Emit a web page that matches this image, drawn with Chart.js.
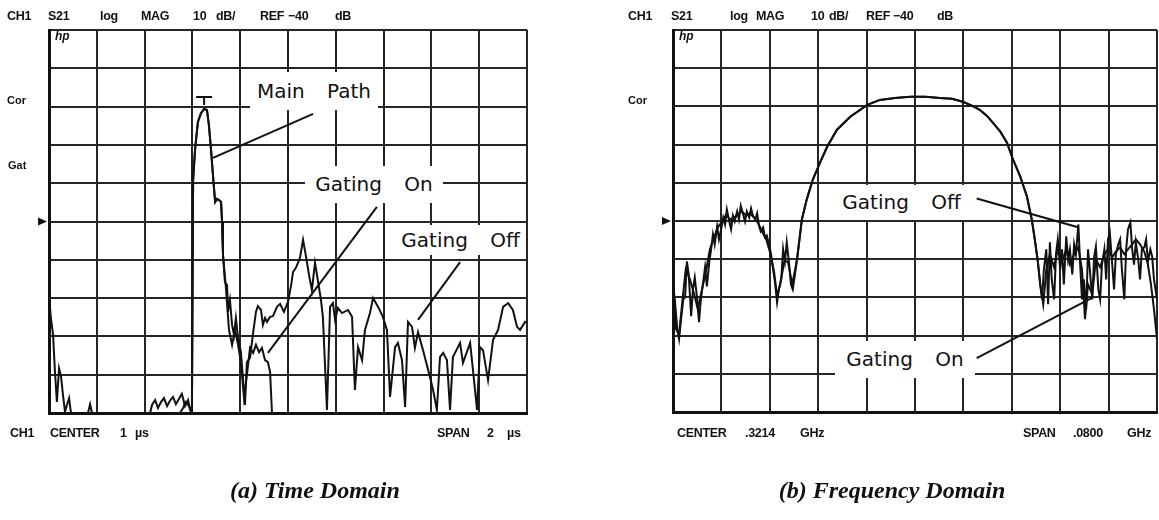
<!DOCTYPE html>
<html>
<head>
<meta charset="utf-8">
<script src="https://cdn.jsdelivr.net/npm/chart.js@4.4.1/dist/chart.umd.min.js"></script>
<style>
body { margin: 0; background: #fff; }
#wrap { position: relative; width: 1159px; height: 520px; overflow: hidden; background: #fff; }
canvas { position: absolute; left: 0; top: 0; }
.t { position: absolute; font: bold 12.5px "Liberation Sans", sans-serif; letter-spacing: -0.3px; color: #111; white-space: pre; line-height: 15px; }
.side { position: absolute; font: bold 11px "Liberation Sans", sans-serif; color: #111; line-height: 13px; }
.hp { position: absolute; font: italic bold 12px "Liberation Sans", sans-serif; color: #111; line-height: 13px; }
.lbl { position: absolute; background: #fff; font: 20px "DejaVu Sans", sans-serif; color: #111; text-align: center; white-space: pre; word-spacing: 16px; }
.cap { position: absolute; width: 400px; text-align: center; font: italic bold 24px "Liberation Serif", serif; color: #111; line-height: 28px; }
</style>
</head>
<body>
<div id="wrap">
  <canvas id="timeChart" width="1159" height="520"></canvas>
  <canvas id="freqChart" width="1159" height="520"></canvas>
</div>
<script>
// screen limits and reference level (10 dB/div, REF -40 dB)
const dbMin = -90, dbMax = 10, refDb = -40;
const timeSpanUs = [0, 2];            // CENTER 1 us, SPAN 2 us
const freqSpanGHz = [0.2814, 0.3614]; // CENTER .3214 GHz, SPAN .0800 GHz

// (a) time domain, gating off
const timeOffUs = [
  0, .008, .017, .025, .033, .042, .050, .059, .067, .075,
  .084, .092, .163, .172, .180, .423, .431, .444, .456, .469,
  .481, .494, .506, .519, .531, .544, .556, .569, .582, .590,
  .598, .603, .611, .623, .636, .649, .661, .669, .678, .686,
  .695, .703, .711, .720, .724, .728, .736, .745, .749, .757,
  .766, .774, .782, .791, .803, .812, .820, .828, .841, .854,
  .866, .874, .887, .895, .904, .912, .925, .937, .954, .967,
  .983, 1.000, 1.013, 1.021, 1.033, 1.050, 1.063, 1.075, 1.088, 1.100,
  1.113, 1.126, 1.138, 1.146, 1.163, 1.176, 1.188, 1.197, 1.209, 1.226,
  1.251, 1.268, 1.280, 1.293, 1.310, 1.322, 1.343, 1.356, 1.377, 1.397,
  1.414, 1.427, 1.448, 1.460, 1.477, 1.490, 1.502, 1.519, 1.531, 1.544,
  1.565, 1.594, 1.607, 1.623, 1.636, 1.649, 1.665, 1.678, 1.690, 1.720,
  1.732, 1.762, 1.774, 1.791, 1.803, 1.816, 1.837, 1.858, 1.879, 1.900,
  1.921, 1.941, 1.958, 1.971, 1.992, 2.000
];
const gateOffTimeDb = [
  -59.7, -65.2, -69.6, -79.3, -87.1, -78.3, -80.3, -85.6, -89.7, -87.9,
  -86.1, -90, -90, -87.7, -90, -90, -87.9, -86.6, -88.7, -87.1,
  -86.1, -88.2, -86.8, -85.8, -87.7, -86.3, -85.0, -88.2, -86.6, -89.2,
  -90, -29.2, -21.3, -14.0, -11.7, -10.6, -10.9, -14.8, -21.3, -27.9,
  -34.9, -34.1, -34.4, -34.9, -40.1, -48.7, -55.8, -56.6, -63.6, -60.5,
  -67.0, -69.6, -65.2, -70.4, -74.1, -81.4, -87.9, -76.7, -75.6, -69.1,
  -63.6, -62.1, -63.1, -67.0, -65.2, -66.2, -64.9, -64.7, -62.3, -61.5,
  -63.6, -61.0, -56.6, -53.2, -52.1, -49.5, -44.8, -49.0, -54.0, -57.9,
  -50.8, -55.8, -60.5, -64.9, -89.2, -62.3, -61.3, -65.7, -62.6, -63.9,
  -63.1, -64.9, -84.0, -72.8, -76.2, -68.3, -63.9, -60.0, -62.3, -64.9,
  -68.3, -85.8, -72.8, -71.7, -76.2, -88.4, -66.2, -67.5, -73.0, -68.9,
  -73.6, -80.6, -84.0, -89.2, -75.4, -74.3, -76.2, -89.2, -75.4, -71.7,
  -76.9, -71.7, -78.8, -89.2, -72.8, -73.6, -81.4, -70.9, -68.3, -62.3,
  -61.3, -63.1, -67.5, -68.3, -66.2, -66.5
];

// (a) time domain, gating on
const timeOnUs = [
  0, .548, .561, .573, .586, .598, .603, .611, .623, .636,
  .649, .661, .669, .678, .686, .695, .703, .711, .720, .724,
  .728, .741, .753, .766, .778, .791, .803, .816, .828, .841,
  .854, .866, .879, .891, .904, .916, .925, .933, 2.000
];
const gateOnTimeDb = [
  -90, -90, -88.7, -87.1, -88.2, -89.7, -29.2, -21.3, -14.0, -11.7,
  -10.6, -10.9, -14.8, -21.3, -27.9, -34.9, -34.1, -34.4, -34.9, -40.1,
  -48.7, -57.9, -68.3, -72.2, -68.3, -72.2, -76.7, -86.1, -80.1, -73.0,
  -74.3, -72.2, -74.1, -73.0, -76.2, -76.7, -79.3, -90, -90
];

// (b) frequency domain, gating off
const freqOffGHz = [
  .2814, .2817, .2821, .2824, .2827, .2831, .2834, .2837, .2840, .2844,
  .2847, .2850, .2854, .2857, .2860, .2864, .2867, .2870, .2874, .2877,
  .2880, .2883, .2887, .2890, .2893, .2897, .2900, .2903, .2907, .2910,
  .2913, .2916, .2920, .2923, .2926, .2930, .2933, .2936, .2940, .2943,
  .2946, .2950, .2953, .2956, .2959, .2963, .2966, .2969, .2973, .2976,
  .2979, .2983, .2986, .2989, .2993, .2996, .2999, .3002, .3006, .3009,
  .3012, .3019, .3027, .3035, .3045, .3057, .3069, .3085, .3107, .3135,
  .3156, .3181, .3206, .3231, .3255, .3275, .3293, .3308, .3321, .3333,
  .3343, .3355, .3366, .3376, .3388, .3399, .3407, .3412, .3417, .3421,
  .3424, .3427, .3431, .3434, .3437, .3440, .3444, .3447, .3450, .3454,
  .3457, .3460, .3464, .3467, .3470, .3474, .3477, .3480, .3484, .3487,
  .3490, .3493, .3497, .3500, .3503, .3507, .3510, .3513, .3517, .3520,
  .3523, .3527, .3530, .3533, .3536, .3540, .3543, .3546, .3550, .3553,
  .3556, .3560, .3563, .3566, .3570, .3573, .3576, .3579, .3583, .3586,
  .3589, .3593, .3596, .3599, .3603, .3606, .3609, .3614
];
const gateOffFreqDb = [
  -56.6, -60.5, -68.3, -70.9, -66.2, -60.5, -60.0, -50.6, -54.0, -64.9,
  -57.9, -54.8, -60.5, -66.5, -60.5, -55.8, -52.1, -57.1, -50.6, -47.4,
  -43.5, -46.1, -41.4, -44.8, -42.7, -39.1, -40.9, -37.0, -40.1, -42.2,
  -38.6, -40.1, -37.5, -39.6, -36.0, -38.3, -40.1, -37.5, -39.1, -36.7,
  -38.6, -39.6, -38.0, -41.2, -42.7, -41.7, -44.3, -43.8, -46.3, -48.7,
  -52.1, -56.6, -61.3, -57.9, -55.3, -47.4, -50.6, -45.6, -51.4, -56.6,
  -57.9, -50.1, -39.6, -34.4, -29.2, -24.7, -20.5, -16.1, -12.7, -9.6,
  -8.3, -7.8, -7.5, -7.5, -7.8, -8.0, -8.8, -9.8, -10.9, -12.5,
  -14.3, -16.6, -19.5, -23.9, -28.4, -33.6, -39.6, -44.8, -50.6, -56.6,
  -60.5, -52.7, -47.4, -61.8, -45.6, -55.3, -60.5, -48.7, -44.8, -52.7,
  -47.4, -56.6, -44.0, -50.1, -47.4, -54.0, -46.1, -48.7, -40.9, -51.4,
  -60.5, -55.3, -63.1, -47.4, -52.7, -60.5, -49.5, -46.7, -57.9, -60.5,
  -51.4, -47.4, -55.3, -44.8, -43.0, -51.4, -57.9, -48.7, -46.1, -44.8,
  -52.7, -60.5, -47.4, -42.2, -40.4, -47.4, -51.4, -45.6, -50.1, -55.3,
  -47.4, -46.9, -44.8, -50.6, -47.4, -49.3, -55.3, -60.5
];

// (b) frequency domain, gating on
const freqOnGHz = [
  .2814, .2819, .2824, .2829, .2835, .2842, .2849, .2855, .2862, .2869,
  .2875, .2882, .2888, .2895, .2902, .2908, .2915, .2921, .2928, .2935,
  .2941, .2948, .2955, .2961, .2968, .2974, .2981, .2986, .2991, .2998,
  .3004, .3011, .3019, .3027, .3035, .3045, .3057, .3069, .3085, .3107,
  .3135, .3156, .3181, .3206, .3231, .3255, .3275, .3293, .3308, .3321,
  .3333, .3343, .3355, .3366, .3376, .3388, .3399, .3407, .3412, .3417,
  .3421, .3426, .3431, .3437, .3444, .3450, .3457, .3464, .3470, .3477,
  .3484, .3490, .3495, .3500, .3507, .3513, .3520, .3527, .3533, .3540,
  .3546, .3553, .3560, .3566, .3573, .3579, .3586, .3593, .3599, .3604,
  .3609, .3614
];
const gateOnFreqDb = [
  -59.2, -68.3, -69.6, -61.8, -52.7, -55.3, -59.2, -63.1, -57.9, -52.7,
  -47.4, -44.3, -41.7, -40.1, -38.3, -39.6, -39.1, -38.3, -37.5, -38.6,
  -38.0, -39.1, -40.6, -42.7, -44.8, -48.0, -53.2, -59.7, -56.6, -50.6,
  -50.6, -56.6, -50.1, -39.6, -34.4, -29.2, -24.7, -20.5, -16.1, -12.7,
  -9.6, -8.3, -7.8, -7.5, -7.5, -7.8, -8.0, -8.8, -9.8, -10.9,
  -12.5, -14.3, -16.6, -19.5, -23.9, -28.4, -33.6, -39.6, -44.8, -50.6,
  -56.6, -61.8, -52.7, -48.7, -52.1, -47.4, -50.6, -47.4, -51.4, -48.7,
  -46.9, -52.7, -65.7, -56.6, -59.2, -50.1, -52.1, -48.7, -47.4, -49.5,
  -48.0, -46.9, -48.7, -47.4, -46.1, -44.8, -46.1, -48.0, -51.4, -56.6,
  -63.1, -70.9
];

// label leader lines, [x from, dB from, x to, dB to]
const timeLeaders = [[1.105, -11.9, 0.686, -23.4], [1.372, -36.2, 0.916, -74.3], [1.720, -50.6, 1.544, -65.7]];
const freqLeaders = [[.3316, -34.1, .3485, -41.7], [.3316, -75.9, .3508, -60.0]];

// screen text: [text, left, top]
const screenText = [
  ['CH1', 7, 9], ['S21', 48, 9], ['log', 100, 9], ['MAG', 141, 9], ['10', 193, 9], ['dB/', 216, 9], ['REF', 260, 9], ['\u221240', 288, 9], ['dB', 335, 9],
  ['CH1', 628, 9], ['S21', 671, 9], ['log', 730, 9], ['MAG', 756, 9], ['10', 811, 9], ['dB/', 829, 9], ['REF', 866, 9], ['\u221240', 893, 9], ['dB', 937, 9],
  ['CH1', 10, 426], ['CENTER', 50, 426], ['1', 120, 426], ['\u00b5s', 135, 426], ['SPAN', 437, 426], ['2', 487, 426], ['\u00b5s', 507, 426],
  ['CENTER', 677, 426], ['.3214', 745, 426], ['GHz', 800, 426], ['SPAN', 1023, 426], ['.0800', 1073, 426], ['GHz', 1127, 426]
];
const sideText = [['Cor', 7, 94], ['Gat', 8, 159], ['Cor', 628, 94]];
// annotation boxes: [text, left, top, width, height]
const labelBoxes = [
  ['Main Path', 250, 72, 128, 38], ['Gating On', 305, 166, 138, 37], ['Gating Off', 395, 225, 131, 30],
  ['Gating Off', 835, 185, 133, 35], ['Gating On', 835, 341, 140, 37]
];
// captions: [text, centre x, top]
const captions = [['(a) Time Domain', 315, 476], ['(b) Frequency Domain', 892, 476]];

const wrap = document.getElementById('wrap');
function addDiv(cls, text, x, y) {
  const d = document.createElement('div');
  d.className = cls;
  d.textContent = text;
  d.style.left = x + 'px';
  d.style.top = y + 'px';
  wrap.appendChild(d);
  return d;
}
screenText.forEach(s => addDiv('t', s[0], s[1], s[2]));
sideText.forEach(s => addDiv('side', s[0], s[1], s[2]));
addDiv('hp', 'hp', 55, 30);
addDiv('hp', 'hp', 679, 30);
labelBoxes.forEach(b => {
  const d = addDiv('lbl', b[0], b[1], b[2]);
  d.style.width = b[3] + 'px';
  d.style.height = b[4] + 'px';
  d.style.lineHeight = b[4] + 'px';
});
captions.forEach(c => addDiv('cap', c[0], c[1] - 200, c[2]));

const hpMarks = {
  id: 'hpMarks',
  afterDatasetsDraw(chart, args, opts) {
    const ctx = chart.ctx, xs = chart.scales.x, ys = chart.scales.y, area = chart.chartArea;
    ctx.save();
    ctx.strokeStyle = '#111';
    ctx.fillStyle = '#111';
    ctx.lineWidth = 2;
    (opts.leaders || []).forEach(l => {
      ctx.beginPath();
      ctx.moveTo(xs.getPixelForValue(l[0]), ys.getPixelForValue(l[1]));
      ctx.lineTo(xs.getPixelForValue(l[2]), ys.getPixelForValue(l[3]));
      ctx.stroke();
    });
    // reference level pointer
    const ry = ys.getPixelForValue(refDb);
    ctx.beginPath();
    ctx.moveTo(area.left - 11, ry - 4);
    ctx.lineTo(area.left - 2, ry);
    ctx.lineTo(area.left - 11, ry + 4);
    ctx.closePath();
    ctx.fill();
    if (opts.peakMarker) {
      const d = chart.data.datasets[0].data;
      let p = d[0];
      d.forEach(q => { if (q.y > p.y) p = q; });
      const px = xs.getPixelForValue(p.x), py = ys.getPixelForValue(p.y);
      ctx.beginPath();
      ctx.moveTo(px - 8, py - 12);
      ctx.lineTo(px + 8, py - 12);
      ctx.moveTo(px, py - 12);
      ctx.lineTo(px, py - 4);
      ctx.stroke();
    }
    ctx.restore();
  }
};

function divisions(a, b) {
  const out = [];
  for (let i = 0; i <= 10; i++) out.push({ value: a + (b - a) * i / 10 });
  return out;
}

function drawPanel(id, span, series, pad, marks) {
  const grid = { color: '#262626', lineWidth: 2, drawTicks: false };
  const border = { display: true, color: '#111', width: 3 };
  return new Chart(document.getElementById(id), {
    type: 'line',
    data: {
      datasets: series.map(s => ({
        data: s.xs.map((x, i) => ({ x: x, y: s.ys[i] })),
        borderColor: '#111',
        borderWidth: 2,
        pointRadius: 0,
        tension: 0,
        fill: false
      }))
    },
    options: {
      responsive: false,
      animation: false,
      devicePixelRatio: 1,
      layout: { padding: pad },
      plugins: { legend: { display: false }, tooltip: { enabled: false }, hpMarks: marks },
      scales: {
        x: {
          type: 'linear', min: span[0], max: span[1],
          afterBuildTicks: sc => { sc.ticks = divisions(span[0], span[1]); },
          ticks: { display: false }, grid: grid, border: border
        },
        y: {
          type: 'linear', min: dbMin, max: dbMax,
          afterBuildTicks: sc => { sc.ticks = divisions(dbMin, dbMax); },
          ticks: { display: false }, grid: grid, border: border
        }
      }
    },
    plugins: [hpMarks]
  });
}

drawPanel('timeChart', timeSpanUs,
  [{ xs: timeOffUs, ys: gateOffTimeDb }, { xs: timeOnUs, ys: gateOnTimeDb }],
  { left: 49, top: 30, right: 632, bottom: 107 },
  { leaders: timeLeaders, peakMarker: true });

drawPanel('freqChart', freqSpanGHz,
  [{ xs: freqOffGHz, ys: gateOffFreqDb }, { xs: freqOnGHz, ys: gateOnFreqDb }],
  { left: 673, top: 30, right: 2, bottom: 108 },
  { leaders: freqLeaders, peakMarker: false });
</script>
</body>
</html>
